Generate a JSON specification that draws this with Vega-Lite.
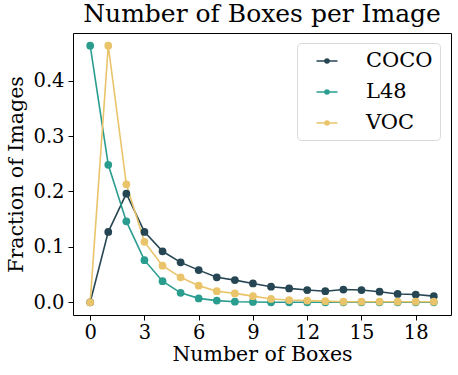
{
  "$schema": "https://vega.github.io/schema/vega-lite/v6.json",
  "width": 378,
  "height": 282,
  "autosize": "none",
  "padding": {"left": 73, "top": 33, "right": 7, "bottom": 60},
  "background": "white",
  "title": {"text": "Number of Boxes per Image", "font": "DejaVu Serif", "fontSize": 25, "fontWeight": "normal", "color": "black", "offset": 6, "anchor": "middle"},
  "config": {
    "view": {"stroke": "black", "strokeWidth": 1},
    "axis": {"labelFont": "DejaVu Serif", "titleFont": "DejaVu Serif", "labelFontSize": 19.5, "titleFontSize": 20.5, "titleFontWeight": "normal", "labelColor": "black", "titleColor": "black", "tickColor": "black", "tickSize": 5, "grid": false, "domain": false}
  },
  "data": {"values": [
    {"x": 0, "s": "COCO", "y": 0},
    {"x": 1, "s": "COCO", "y": 0.127},
    {"x": 2, "s": "COCO", "y": 0.196},
    {"x": 3, "s": "COCO", "y": 0.127},
    {"x": 4, "s": "COCO", "y": 0.092},
    {"x": 5, "s": "COCO", "y": 0.072},
    {"x": 6, "s": "COCO", "y": 0.058},
    {"x": 7, "s": "COCO", "y": 0.045},
    {"x": 8, "s": "COCO", "y": 0.040},
    {"x": 9, "s": "COCO", "y": 0.034},
    {"x": 10, "s": "COCO", "y": 0.028},
    {"x": 11, "s": "COCO", "y": 0.025},
    {"x": 12, "s": "COCO", "y": 0.022},
    {"x": 13, "s": "COCO", "y": 0.020},
    {"x": 14, "s": "COCO", "y": 0.023},
    {"x": 15, "s": "COCO", "y": 0.022},
    {"x": 16, "s": "COCO", "y": 0.019},
    {"x": 17, "s": "COCO", "y": 0.015},
    {"x": 18, "s": "COCO", "y": 0.014},
    {"x": 19, "s": "COCO", "y": 0.011},
    {"x": 0, "s": "L48", "y": 0.463},
    {"x": 1, "s": "L48", "y": 0.248},
    {"x": 2, "s": "L48", "y": 0.146},
    {"x": 3, "s": "L48", "y": 0.076},
    {"x": 4, "s": "L48", "y": 0.038},
    {"x": 5, "s": "L48", "y": 0.017},
    {"x": 6, "s": "L48", "y": 0.007},
    {"x": 7, "s": "L48", "y": 0.003},
    {"x": 8, "s": "L48", "y": 0.001},
    {"x": 9, "s": "L48", "y": 0.0005},
    {"x": 10, "s": "L48", "y": 0},
    {"x": 11, "s": "L48", "y": 0},
    {"x": 12, "s": "L48", "y": 0},
    {"x": 13, "s": "L48", "y": 0},
    {"x": 14, "s": "L48", "y": 0},
    {"x": 15, "s": "L48", "y": 0},
    {"x": 16, "s": "L48", "y": 0},
    {"x": 17, "s": "L48", "y": 0},
    {"x": 18, "s": "L48", "y": 0},
    {"x": 19, "s": "L48", "y": 0},
    {"x": 0, "s": "VOC", "y": 0},
    {"x": 1, "s": "VOC", "y": 0.463},
    {"x": 2, "s": "VOC", "y": 0.213},
    {"x": 3, "s": "VOC", "y": 0.109},
    {"x": 4, "s": "VOC", "y": 0.066},
    {"x": 5, "s": "VOC", "y": 0.045},
    {"x": 6, "s": "VOC", "y": 0.030},
    {"x": 7, "s": "VOC", "y": 0.020},
    {"x": 8, "s": "VOC", "y": 0.016},
    {"x": 9, "s": "VOC", "y": 0.011},
    {"x": 10, "s": "VOC", "y": 0.006},
    {"x": 11, "s": "VOC", "y": 0.004},
    {"x": 12, "s": "VOC", "y": 0.003},
    {"x": 13, "s": "VOC", "y": 0.002},
    {"x": 14, "s": "VOC", "y": 0.001},
    {"x": 15, "s": "VOC", "y": 0.001},
    {"x": 16, "s": "VOC", "y": 0.001},
    {"x": 17, "s": "VOC", "y": 0.001},
    {"x": 18, "s": "VOC", "y": 0.001},
    {"x": 19, "s": "VOC", "y": 0.001}
  ]},
  "mark": {"type": "line", "strokeWidth": 1.6, "point": {"filled": true, "size": 60, "opacity": 1}},
  "encoding": {
    "x": {"field": "x", "type": "quantitative", "scale": {"domain": [-0.95, 19.95], "nice": false, "zero": false}, "axis": {"values": [0, 3, 6, 9, 12, 15, 18], "title": "Number of Boxes", "titlePadding": 3, "labelPadding": 3}},
    "y": {"field": "y", "type": "quantitative", "scale": {"domain": [-0.023, 0.486], "nice": false, "zero": false}, "axis": {"values": [0, 0.1, 0.2, 0.3, 0.4], "format": ".1f", "title": "Fraction of Images", "titlePadding": 6, "labelPadding": 4}},
    "color": {"field": "s", "type": "nominal", "scale": {"domain": ["COCO", "L48", "VOC"], "range": ["#264653", "#2a9d8f", "#e9c46a"]},
      "legend": {"title": null, "orient": "none", "legendX": 224, "legendY": 10, "padding": 7, "strokeColor": "#d9d9d9", "fillColor": "white", "cornerRadius": 4,
        "labelFont": "DejaVu Serif", "labelFontSize": 21, "labelColor": "black", "symbolType": "M-1.05,0H1.05M-0.2,0A0.2,0.2,0,1,1,0.2,0A0.2,0.2,0,1,1,-0.2,0", "symbolSize": 400, "symbolStrokeWidth": 1.6, "symbolOffset": 12, "labelOffset": 28, "rowPadding": 10}}
  }
}
